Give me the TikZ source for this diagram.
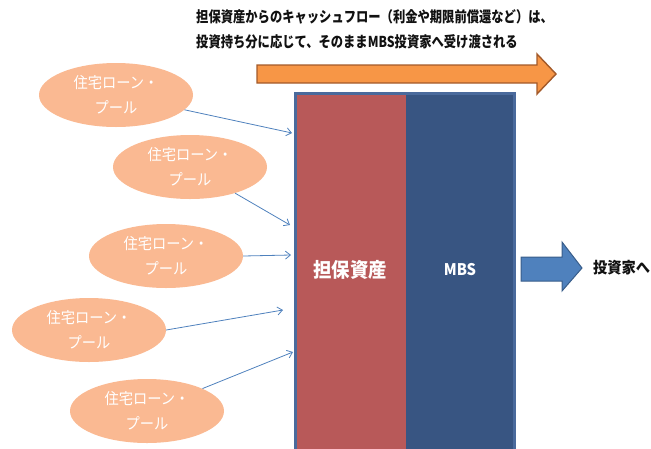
\documentclass[tikz,border=0pt]{standalone}
\usepackage{fontspec}
\setmainfont{Noto Sans CJK JP}
\usetikzlibrary{arrows.meta,shapes.geometric}
\definecolor{poolfill}{HTML}{FAB992}
\definecolor{arrorange}{HTML}{F79646}
\definecolor{arrorangeline}{HTML}{A35A2A}
\definecolor{assetred}{HTML}{B85959}
\definecolor{mbsblue}{HTML}{385582}
\definecolor{frameblue}{HTML}{4A6A9C}
\definecolor{connblue}{HTML}{4F81BD}
\definecolor{bluearrline}{HTML}{385D8A}
\definecolor{txt}{HTML}{111111}
\newcommand{\cond}[1]{\scalebox{0.92}[1]{#1}}
\begin{document}
\begin{tikzpicture}[x=1pt,y=-1pt,
  pool/.style={ellipse, fill=poolfill, minimum width=154pt, minimum height=64pt, inner sep=0pt,
    text=white, align=center, font=\fontsize{15.5}{25}\selectfont},
  conn/.style={draw=connblue, line width=0.8pt, -{Straight Barb[length=5pt,width=8pt]}},
  titletext/.style={anchor=west, inner sep=0pt, text=txt, font=\bfseries\fontsize{15}{18}\selectfont},
  boxlabel/.style={text=white, inner sep=0pt, font=\bfseries\fontsize{20}{22}\selectfont}]
\useasboundingbox (0,0) rectangle (651,448);

% title
\node[titletext] (title1) at (196,17) {\scalebox{0.82}[1]{担保資産からのキャッシュフロー（利金や期限前償還など）は、}};
\node[titletext] (title2) at (196,42) {\scalebox{0.82}[1]{投資持ち分に応じて、そのままMBS投資家へ受け渡される}};

% orange arrow
\draw[fill=arrorange, draw=arrorangeline, line width=1.4pt, line join=miter]
  (257,65) -- (537,65) -- (537,54) -- (556,74) -- (537,94) -- (537,83) -- (257,83) -- cycle;

% big block
\fill[frameblue] (294,92) rectangle (516,452);
\fill[assetred] (297,95) rectangle (405.5,452);
\fill[mbsblue] (405.5,95) rectangle (513,452);
\node[boxlabel] (asset) at (350,270) {\cond{担保資産}};
\node[boxlabel, font=\bfseries\fontsize{16}{18}\selectfont] (mbs) at (460,270) {\cond{MBS}};

% blue arrow
\draw[fill=connblue, draw=bluearrline, line width=1pt, line join=miter]
  (521,257) -- (562,257) -- (562,242) -- (582,268) -- (562,291) -- (562,281) -- (521,281) -- cycle;
\node[titletext, font=\bfseries\fontsize{15.5}{18}\selectfont] (inv) at (593,268) {\cond{投資家へ}};

% pools
\node[pool] (e1) at (116,95) {\cond{住宅ローン・}\\\cond{プール}};
\node[pool] (e2) at (190,167) {\cond{住宅ローン・}\\\cond{プール}};
\node[pool] (e3) at (166,256) {\cond{住宅ローン・}\\\cond{プール}};
\node[pool] (e4) at (89,330) {\cond{住宅ローン・}\\\cond{プール}};
\node[pool] (e5) at (147,411) {\cond{住宅ローン・}\\\cond{プール}};

\coordinate (t1) at (292,133);
\coordinate (t2) at (290,225);
\coordinate (t3) at (291,255);
\coordinate (t4) at (283,310);
\coordinate (t5) at (293,352);

\draw[conn] (e1) -- (t1);
\draw[conn] (e2) -- (t2);
\draw[conn] (e3.east) -- (t3);
\draw[conn] (e4.east) -- (t4);
\draw[conn] (e5) -- (t5);
\end{tikzpicture}
\end{document}
